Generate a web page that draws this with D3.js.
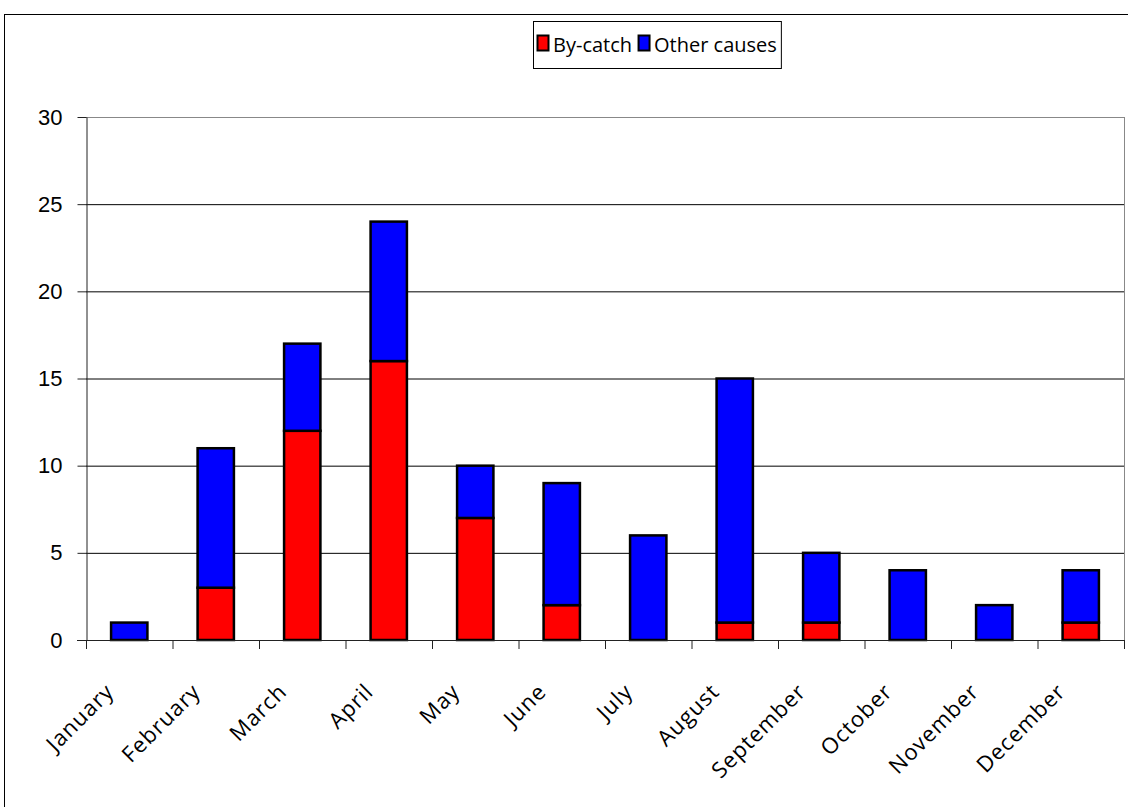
<!DOCTYPE html>
<html>
<head>
<meta charset="utf-8">
<script src="https://cdn.jsdelivr.net/npm/d3@7"></script>
<style>
  body { margin: 0; background: #fff; }
  svg { display: block; font-family: "Comic Sans MS", "Open Sans", "DejaVu Sans", sans-serif; }
</style>
</head>
<body>
<div id="chart"></div>
<script>
// data
var months = ['January', 'February', 'March', 'April', 'May', 'June',
              'July', 'August', 'September', 'October', 'November', 'December'];
var byCatch = [0, 3, 12, 16, 7, 2, 0, 1, 1, 0, 0, 1];
var otherCauses = [1, 8, 5, 8, 3, 7, 6, 14, 4, 4, 2, 3];
var seriesNames = ['By-catch', 'Other causes'];
var seriesColors = ['#ff0000', '#0000ff'];
var yTicks = [0, 5, 10, 15, 20, 25, 30];

(function () {
  var W = 1128, H = 807,
      pLeft = 86, pRight = 1124, pTop = 117, pBottom = 640;

  var svg = d3.select('#chart').append('svg')
      .attr('width', W)
      .attr('height', H);

  // outer frame
  svg.append('rect')
      .attr('x', 4.5).attr('y', 14.5)
      .attr('width', W + 10).attr('height', H + 10)
      .attr('fill', 'none').attr('stroke', '#000').attr('stroke-width', 1);

  var x = d3.scaleBand().domain(months).range([pLeft, pRight]).paddingInner(0.58).paddingOuter(0.29);
  var xTick = d3.scaleBand().domain(months).range([pLeft, pRight]);
  var y = d3.scaleLinear().domain([0, 30]).range([pBottom, pTop]);

  // gridlines
  svg.append('g').selectAll('line')
      .data(yTicks.filter(function (d) { return d > 0; }))
      .enter().append('line')
      .attr('x1', pLeft).attr('x2', pRight)
      .attr('y1', function (d) { return y(d) + 0.5; })
      .attr('y2', function (d) { return y(d) + 0.5; })
      .attr('stroke', function (d) { return d === 30 ? '#888' : '#000'; })
      .attr('stroke-width', 1);

  // right edge of plot area
  svg.append('line')
      .attr('x1', pRight + 0.5).attr('x2', pRight + 0.5)
      .attr('y1', pTop).attr('y2', pBottom)
      .attr('stroke', '#888');

  // stacked bars
  var rows = months.map(function (m, i) {
    return { month: m, 'By-catch': byCatch[i], 'Other causes': otherCauses[i] };
  });
  var stack = d3.stack().keys(seriesNames)(rows);

  svg.append('g').selectAll('g')
      .data(stack)
      .enter().append('g')
      .attr('fill', function (d, i) { return seriesColors[i]; })
      .selectAll('rect')
      .data(function (d) { return d.filter(function (p) { return p[1] > p[0]; }); })
      .enter().append('rect')
      .attr('x', function (d) { return x(d.data.month); })
      .attr('width', x.bandwidth())
      .attr('y', function (d) { return y(d[1]); })
      .attr('height', function (d) { return y(d[0]) - y(d[1]); })
      .attr('stroke', '#000')
      .attr('stroke-width', 2.5);

  // y axis
  var yAxis = svg.append('g')
      .attr('transform', 'translate(' + (pLeft + 0.5) + ',0)')
      .call(d3.axisLeft(y).tickValues(yTicks).tickSize(9).tickSizeOuter(0));
  yAxis.select('.domain').attr('stroke', '#222');
  yAxis.selectAll('.tick line').attr('stroke', '#222');
  yAxis.selectAll('text')
      .attr('font-size', 22)
      .attr('font-family', 'inherit')
      .attr('fill', '#000')
      .attr('dx', -12);

  // x axis (ticks between categories)
  var xAxisG = svg.append('g');
  xAxisG.append('line')
      .attr('x1', pLeft - 9).attr('x2', pRight)
      .attr('y1', pBottom + 0.5).attr('y2', pBottom + 0.5)
      .attr('stroke', '#222');
  xAxisG.selectAll('line.tick')
      .data(months.concat(['end']))
      .enter().append('line')
      .attr('class', 'tick')
      .attr('x1', function (d, i) { return pLeft + i * xTick.bandwidth() + 0.5; })
      .attr('x2', function (d, i) { return pLeft + i * xTick.bandwidth() + 0.5; })
      .attr('y1', pBottom).attr('y2', pBottom + 9)
      .attr('stroke', '#222');

  xAxisG.selectAll('text')
      .data(months)
      .enter().append('text')
      .attr('transform', function (d) {
        var cx = xTick(d) + xTick.bandwidth() / 2;
        return 'translate(' + (cx - 14) + ',' + 693 + ') rotate(-45)';
      })
      .attr('text-anchor', 'end')
      .attr('font-size', 22)
      .attr('letter-spacing', 1)
      .attr('fill', '#000')
      .text(function (d) { return d; });

  // legend, laid out from measured text widths
  var legend = svg.append('g');
  var box = legend.append('rect')
      .attr('y', 21.5).attr('height', 47)
      .attr('fill', '#fff').attr('stroke', '#000');

  var cursor = 0;
  var items = [];
  seriesNames.forEach(function (name, i) {
    var g = legend.append('g');
    g.append('rect')
        .attr('x', 0.5).attr('y', 35.5)
        .attr('width', 11).attr('height', 15)
        .attr('fill', seriesColors[i])
        .attr('stroke', '#000').attr('stroke-width', 2);
    var t = g.append('text')
        .attr('x', 16).attr('y', 52)
        .attr('font-size', 20)
        .attr('fill', '#000')
        .text(name);
    g.attr('transform', 'translate(' + cursor + ',0)');
    cursor += 16 + t.node().getComputedTextLength() + 6;
    items.push(g);
  });
  var contentW = cursor - 6;
  var boxW = contentW + 8;
  var boxX = Math.round(657 - boxW / 2);
  box.attr('x', boxX + 0.5).attr('width', boxW);
  items.forEach(function (g) {
    var tr = g.attr('transform').match(/translate\(([-\d.]+)/);
    g.attr('transform', 'translate(' + (boxX + 4 + (+tr[1])) + ',0)');
  });
})();
</script>
</body>
</html>
